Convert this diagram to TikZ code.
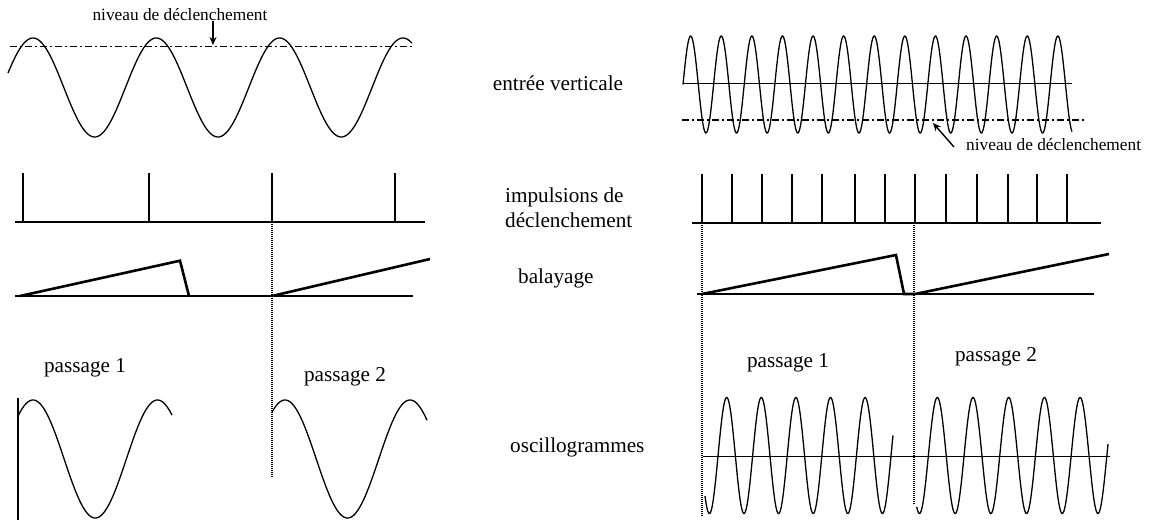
\documentclass[tikz,border=0pt]{standalone}
\usepackage{fontspec}
\setmainfont{Liberation Serif}
\usetikzlibrary{arrows.meta}
\begin{document}
\begin{tikzpicture}[x=1pt,y=-1pt,
  wave/.style={line width=1.3pt},
  pulse/.style={line width=2pt},
  ramp/.style={line width=2.6pt, line join=miter},
  base/.style={line width=1.6pt},
  axis/.style={line width=0.8pt},
  trig/.style={line width=1.4pt, dash pattern=on 7pt off 3pt on 2pt off 3pt},
  guide/.style={line width=1.2pt, dash pattern=on 1pt off 1pt},
  lab/.style={font=\fontsize{21.2}{25}\selectfont, inner sep=0pt},
  small/.style={font=\fontsize{17.3}{20}\selectfont, inner sep=0pt},
  pointer/.style={line width=1.4pt, -{Stealth[length=8pt,width=7pt]}}]
\useasboundingbox (0,0) rectangle (1152,520);

% ---------- labels in the middle ----------
\node[lab] (entree) at (558,83) {entrée verticale};
\node[lab, anchor=west] (imp1) at (505,197) {impulsions de};
\node[lab, anchor=west] (imp2) at (505,220) {déclenchement};
\node[lab, anchor=west] (bal) at (518,278) {balayage};
\node[lab, anchor=west] (osc) at (510,447) {oscillogrammes};

% ---------- left column ----------
\node[small] (trigL) at (180,15) {niveau de déclenchement};
\coordinate (trigLtip) at (213,45);
\draw[pointer] (trigL.south -| trigLtip) -- (trigLtip);
\draw[trig] (10,46.5) -- (413,46.5);
\draw[wave] plot[domain=8:412, samples=300] (\x, {87.5-49.5*cos((360/123.3)*(\x-33))});

\draw[base] (15,222) -- (425,222);
\foreach \p in {23,149,272,395} \draw[pulse] (\p,222) -- (\p,173);

\draw[base] (15,296) -- (413,296);
\draw[ramp] (20,296) -- (180,260.7) -- (189,296);
\draw[ramp] (272,296) -- (430,259);

\draw[guide] (272,222) -- (272,477);

\node[lab] (pL1) at (85,368) {passage 1};
\node[lab] (pL2) at (345,377) {passage 2};
\draw[wave] (18,398) -- (18,520);
\draw[wave] plot[domain=18:172, samples=200] (\x, {459-59*cos((360/124.5)*(\x-33))});
\draw[wave] plot[domain=272:427, samples=200] (\x, {459-59*cos((360/125)*(\x-285))});

% ---------- right column ----------
\draw[axis] (683,83) -- (1072,83);
\draw[trig] (682,120) -- (1085,120);
\draw[wave] plot[domain=683:1072, samples=600] (\x, {84.5-48.5*sin((360/30.6)*(\x-683))});
\node[small, anchor=west] (trigR) at (966,145) {niveau de déclenchement};
\coordinate (trigRtip) at (933,123);
\draw[pointer] ([xshift=-12pt,yshift=-2pt]trigR.west) -- (trigRtip);

\draw[base] (692,223) -- (1101,223);
\foreach \p in {702,732,762,792.3,822.3,855,885.3,915,946,976.7,1007.7,1036.7,1067.3}
  \draw[pulse] (\p,223) -- (\p,174);

\draw[base] (697,294) -- (1094,294);
\draw[ramp] (702,294) -- (896,255) -- (904,294) -- (915,294);
\draw[ramp] (915,294) -- (1109,254);

\draw[guide] (702,223) -- (702,517);
\draw[guide] (914,223) -- (914,505);

\node[lab] (pR1) at (788,363) {passage 1};
\node[lab] (pR2) at (996,357) {passage 2};
\draw[axis] (703,456) -- (1110,456);
\draw[wave] plot[domain=705:893, samples=400] (\x, {455.5-58*cos((360/34.6)*(\x-726.7))});
\draw[wave] plot[domain=916.7:1108, samples=400] (\x, {455.5-58*cos((360/35.7)*(\x-937.3))});
\end{tikzpicture}
\end{document}
